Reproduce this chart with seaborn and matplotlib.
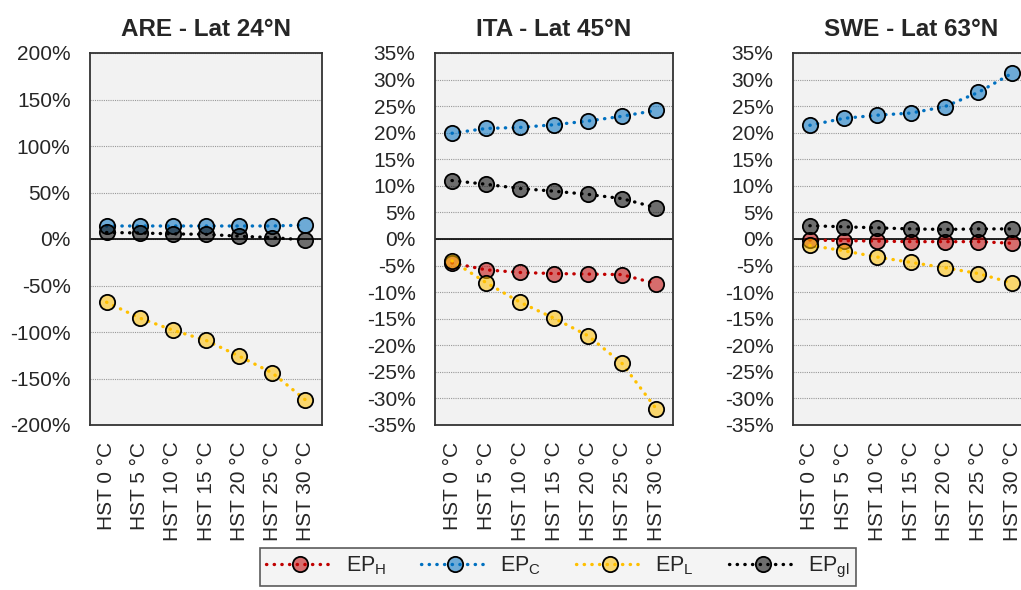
import matplotlib.pyplot as plt
from matplotlib.ticker import FuncFormatter, MultipleLocator
import numpy as np
import pandas as pd
import seaborn as sns

# Data (values in %)
categories = ["HST 0 °C", "HST 5 °C", "HST 10 °C", "HST 15 °C",
              "HST 20 °C", "HST 25 °C", "HST 30 °C"]

are_h = [np.nan] * 7
are_c = [14, 14, 14, 14, 14, 14, 15]
are_l = [-68, -85, -98, -109, -126, -144, -173]
are_gl = [7, 6.5, 5.5, 5, 3, 1.5, -1]

ita_h = [-4.5, -5.8, -6.3, -6.5, -6.6, -6.7, -8.4]
ita_c = [19.9, 20.8, 21.0, 21.5, 22.2, 23.1, 24.2]
ita_l = [-4.1, -8.2, -11.9, -14.9, -18.2, -23.4, -31.9]
ita_gl = [11.0, 10.3, 9.5, 9.0, 8.4, 7.6, 5.9]

swe_h = [-0.2, -0.3, -0.4, -0.5, -0.5, -0.5, -0.8]
swe_c = [21.4, 22.7, 23.3, 23.7, 24.9, 27.6, 31.2]
swe_l = [-1.2, -2.2, -3.4, -4.4, -5.4, -6.5, -8.3]
swe_gl = [2.5, 2.3, 2.1, 1.9, 1.8, 1.9, 1.9]

titles = ["ARE - Lat 24°N", "ITA - Lat 45°N", "SWE - Lat 63°N"]
series_names = [r"EP$_\mathregular{H}$", r"EP$_\mathregular{C}$",
                r"EP$_\mathregular{L}$", r"EP$_\mathregular{gl}$"]
line_colors = ["#C00000", "#0070C0", "#FFC000", "#000000"]

panels = [
    (titles[0], [are_h, are_c, are_l, are_gl], 200, 50),
    (titles[1], [ita_h, ita_c, ita_l, ita_gl], 35, 5),
    (titles[2], [swe_h, swe_c, swe_l, swe_gl], 35, 5),
]

sns.set_theme(style="white")
plt.rcParams["font.family"] = ["Liberation Sans", "DejaVu Sans"]
plt.rcParams["mathtext.fontset"] = "custom"
plt.rcParams["mathtext.rm"] = "Liberation Sans"

W, H = 1021, 590
fig = plt.figure(figsize=(W / 100, H / 100), dpi=100)

# axes boxes in pixels: left, right
boxes = [(90, 322), (435, 673), (793, 1029)]
top, bottom = 53, 425

handles = []
for (title, series, lim, step), (x0, x1) in zip(panels, boxes):
    ax = fig.add_axes([x0 / W, (H - bottom) / H, (x1 - x0) / W, (bottom - top) / H])
    ax.set_facecolor("#f2f2f2")
    for vals, name, col in zip(series, series_names, line_colors):
        df = pd.DataFrame({"cat": categories, "val": vals})
        face = plt.matplotlib.colors.to_rgba(col, 0.55)
        sns.lineplot(data=df, x="cat", y="val", ax=ax, color=col,
                     linestyle=(0, (0.1, 2.2)), dash_capstyle="round",
                     linewidth=2.4, marker="o", markersize=11,
                     markerfacecolor=face, markeredgecolor="black",
                     markeredgewidth=1.3, label=name, legend=False)
    ax.axhline(0, color="black", lw=1.2, zorder=1)
    ax.set_xlim(-0.5, 6.5)
    ax.set_ylim(-lim, lim)
    ax.yaxis.set_major_locator(MultipleLocator(step))
    ax.yaxis.set_major_formatter(FuncFormatter(lambda v, p: f"{v:.0f}%"))
    ax.grid(axis="y", color="#999999", linestyle=(0, (1, 1)), lw=0.8)
    ax.set_axisbelow(True)
    ax.tick_params(axis="y", length=0, pad=14, labelsize=15)
    ax.tick_params(axis="x", length=0, pad=12, labelsize=15, rotation=90)
    ax.set_xlabel("")
    ax.set_ylabel("")
    ax.set_title(title, fontsize=17.5, fontweight="bold", pad=12)
    for s in ax.spines.values():
        s.set_color("#333333")
        s.set_linewidth(1.3)
    if title.startswith("ITA"):
        handles = ax.get_lines()[:4]

leg = fig.legend(handles, series_names, loc="center", ncol=4,
                 bbox_to_anchor=(558 / W, 1 - 567 / H), fontsize=15.5,
                 frameon=True, fancybox=False, facecolor="#f2f2f2",
                 edgecolor="#333333", handlelength=3.2, columnspacing=1.6,
                 handletextpad=0.5, borderpad=0.3)
leg.get_frame().set_linewidth(1.2)

fig.savefig("out.png", dpi=100)
